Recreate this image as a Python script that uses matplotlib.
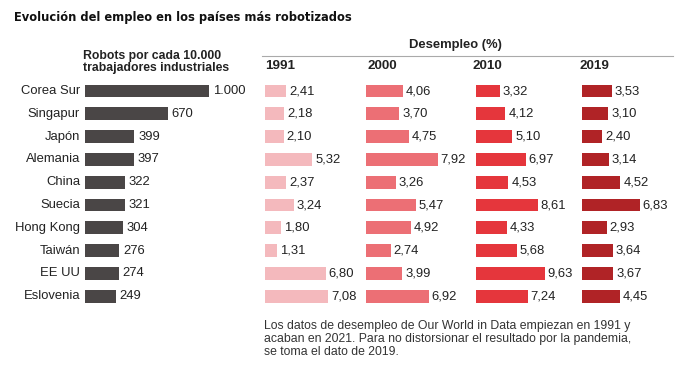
import numpy as np
import matplotlib
matplotlib.use("Agg")
import matplotlib.pyplot as plt

plt.rcParams['font.family'] = ['Liberation Sans', 'DejaVu Sans']

paises = ["Corea Sur", "Singapur", "Japón", "Alemania", "China", "Suecia",
          "Hong Kong", "Taiwán", "EE UU", "Eslovenia"]
robots = [1000, 670, 399, 397, 322, 321, 304, 276, 274, 249]
anios = ["1991", "2000", "2010", "2019"]
d1991 = [2.41, 2.18, 2.10, 5.32, 2.37, 3.24, 1.80, 1.31, 6.80, 7.08]
d2000 = [4.06, 3.70, 4.75, 7.92, 3.26, 5.47, 4.92, 2.74, 3.99, 6.92]
d2010 = [3.32, 4.12, 5.10, 6.97, 4.53, 8.61, 4.33, 5.68, 9.63, 7.24]
d2019 = [3.53, 3.10, 2.40, 3.14, 4.52, 6.83, 2.93, 3.64, 3.67, 4.45]
desempleo = [d1991, d2000, d2010, d2019]
colores = ["#f4b9bd", "#ec6f75", "#e5363c", "#b02326"]

W, H = 685, 371
fig = plt.figure(figsize=(W / 100, H / 100), dpi=100)
fig.patch.set_facecolor("white")


def px(x, y):
    return x / W, 1 - y / H


def caja(left, width, top=79.6, bottom=307.6):
    return [left / W, 1 - bottom / H, width / W, (bottom - top) / H]


y = np.arange(len(paises))
fs = 9.4

# robots
ax = fig.add_axes(caja(85, 124))
ax.barh(y, robots, height=0.57, color="#4a4646")
ax.set_xlim(0, 1000)
ax.set_ylim(len(paises) - 0.5, -0.5)
for i, v in enumerate(robots):
    txt = f"{v:,}".replace(",", ".")
    ax.text(v + 30, i, txt, va="center", ha="left", fontsize=fs, color="#222222")
    ax.text(-40, i, paises[i], va="center", ha="right", fontsize=fs, color="#222222")
ax.axis("off")

# desempleo
lefts = [265, 366, 476, 582]
escalas = [8.9, 9.05, 7.15, 8.45]
pos_anio = [265, 368, 473, 579]
for k in range(4):
    a = fig.add_axes(caja(lefts[k], 90))
    a.barh(y, desempleo[k], height=0.57, color=colores[k])
    a.set_xlim(0, 90 / escalas[k])
    a.set_ylim(len(paises) - 0.5, -0.5)
    for i, v in enumerate(desempleo[k]):
        a.text(v + 3 / escalas[k], i, f"{v:.2f}".replace(".", ","),
               va="center", ha="left", fontsize=fs, color="#222222")
    a.axis("off")
    fig.text(*px(pos_anio[k], 66), anios[k], fontsize=9.6, fontweight="bold",
             va="center", ha="left", color="#222222")

# textos
fig.text(*px(14, 17), "Evolución del empleo en los países más robotizados",
         fontsize=8.3, fontweight="bold", va="center", ha="left", color="#111111",
         family=["DejaVu Sans"])
fig.text(*px(83, 62), "Robots por cada 10.000\ntrabajadores industriales",
         fontsize=8.8, fontweight="bold", va="center", ha="left", color="#222222",
         linespacing=1.05)
fig.text(*px(455, 45), "Desempleo (%)", fontsize=fs, fontweight="bold",
         va="center", ha="center", color="#222222")
fig.add_artist(plt.Line2D([262 / W, 673 / W], [1 - 56 / H, 1 - 56 / H],
                          color="#aaaaaa", lw=0.8))
fig.text(*px(264, 339), "Los datos de desempleo de Our World in Data empiezan en 1991 y\n"
         "acaban en 2021. Para no distorsionar el resultado por la pandemia,\n"
         "se toma el dato de 2019.", fontsize=8.8, va="center", ha="left",
         color="#333333", linespacing=1.15)

fig.savefig("out.png", dpi=100)
